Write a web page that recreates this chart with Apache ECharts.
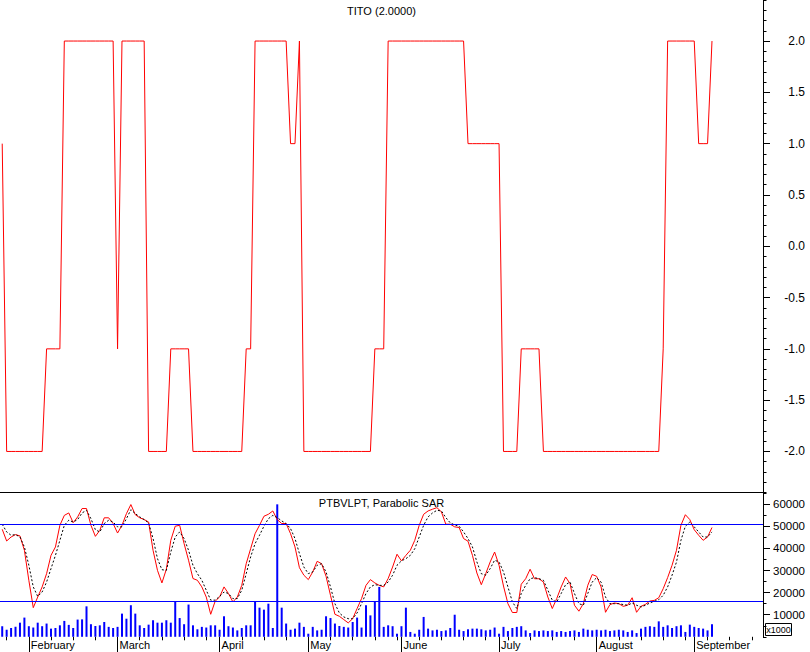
<!DOCTYPE html>
<html>
<head>
<meta charset="utf-8">
<script src="https://cdn.jsdelivr.net/npm/echarts@6/dist/echarts.min.js"></script>
<style>
html,body{margin:0;padding:0;background:#ffffff;}
#chart{width:810px;height:652px;}
</style>
</head>
<body>
<div id="chart"></div>
<script>
// ---------- data ----------
const firstDay = '2010-01-22';
const dayCount = 172;                      // trading-day slots on the axis
const holidays = ['2010-04-02', '2010-04-05'];
const monthNames = ['January','February','March','April','May','June','July','August','September','October','November','December'];

const topTitle = 'TITO (2.0000)';
const bottomTitle = 'PTBVLPT, Parabolic SAR';
const unitNote = 'x1000';

const titoTicks = [-2, -1.5, -1, -0.5, 0, 0.5, 1, 1.5, 2];
const lowerTicks = [10000, 20000, 30000, 40000, 50000, 60000];
const refLevels = [50800, 15900];

const tito = [1,
 -2,-2,-2,-2,-2,-2,-2,-2,-2,
 -1,-1,-1,-1,
 2,2,2,2,2,2,2,2,2,2,2,2,
 -1,
 2,2,2,2,2,2,
 -2,-2,-2,-2,-2,
 -1,-1,-1,-1,-1,
 -2,-2,-2,-2,-2,-2,-2,-2,-2,-2,-2,-2,
 -1,-1,
 2,2,2,2,2,2,2,2,
 1,1,
 2,
 -2,-2,-2,-2,-2,-2,-2,-2,-2,-2,-2,-2,-2,-2,-2,-2,
 -1,-1,-1,
 2,2,2,2,2,2,2,2,2,2,2,2,2,2,2,2,2,2,
 1,1,1,1,1,1,1,1,
 -2,-2,-2,-2,
 -1,-1,-1,-1,-1,
 -2,-2,-2,-2,-2,-2,-2,-2,-2,-2,-2,-2,-2,-2,-2,-2,-2,-2,-2,-2,-2,-2,-2,-2,-2,-2,-2,
 -1,
 2,2,2,2,2,2,2,
 1,1,1,
 2];

const ptbv = [48700,43400,45200,46300,45700,39200,25600,13200,18000,22600,
 28600,36900,40700,50500,55000,56100,51700,54300,58100,58100,
 50500,45500,48200,53900,53900,51300,47000,50500,55800,59900,
 55300,53900,53100,52000,39200,30100,24400,30600,43700,50100,
 50500,42200,34700,26400,25600,22600,18000,10200,16100,18000,
 22600,19600,15800,18000,23300,33100,39900,46700,50500,54600,
 55500,57000,53100,51300,51300,46700,40700,31300,27900,25900,
 29400,34200,33100,27400,18800,10200,9300,7800,6300,8200,
 12800,17300,23300,25900,24400,23300,22600,26400,31600,37400,
 34400,36900,39200,43700,50500,55500,57000,57800,58500,56600,
 51000,51000,49800,49500,44500,43300,36900,28900,23600,28600,
 33900,38400,32400,23000,15000,11000,11000,23800,26300,30600,
 26300,26300,24800,18000,12800,17300,22600,27100,24100,14300,
 11600,15000,23300,28200,27400,22600,11100,14600,15300,15000,
 13800,14300,17700,11100,13800,14700,16200,16500,17700,21800,
 26800,32400,39200,50500,55300,53100,48500,46000,43700,45200,
 49500];

const sar = [51000,47500,46000,46300,45200,40700,32400,22600,18300,20300,
 24800,30900,36900,43700,50500,52800,52000,53100,56100,57300,
 53500,48500,47500,51300,52800,52000,49800,49800,53500,57600,
 55800,54300,53100,51600,44500,35400,30400,30100,38400,45200,
 47500,44500,39200,32400,28600,25600,21100,16600,16600,18300,
 20300,19600,17300,17300,21100,28600,36200,42200,46000,50100,
 53500,55000,54000,52500,51300,49000,44500,37700,31600,28600,
 29400,32400,33100,29400,22600,15000,10800,9000,8200,8200,
 10800,15000,19600,22600,23600,23300,23300,24800,27900,32400,
 34400,35400,36900,39900,45200,50500,54300,56100,57300,57000,
 54000,51600,50700,50100,47500,44500,40700,33900,28600,27900,
 30900,34700,33900,29400,22600,15800,12800,19600,23300,26300,
 26800,26300,25600,21100,16600,15800,19600,23600,24800,19600,
 15000,14300,19600,24800,26800,24800,18000,15000,15000,15000,
 14600,14300,15300,14300,13500,14300,15300,16100,16800,18800,
 22600,27900,33900,43700,50100,52000,49800,47500,45200,45200,
 47500];

const volume = [4800,3200,4000,4500,6400,8700,4800,4200,6400,4800,
 6000,3700,4000,5200,7200,5400,4000,7800,7900,13800,
 5700,4900,5200,6700,4500,4000,4500,10500,8200,14300,
 10500,5200,4000,5500,7500,6400,6400,7500,6400,15800,
 8500,5700,14600,5200,3400,4500,4200,5200,5200,3200,
 9300,4800,4200,2900,4000,5200,5200,15800,13200,12300,
 15000,4000,60000,13200,6000,3200,3700,6400,4500,1400,
 4500,2900,3200,9300,8500,6000,4900,4500,4200,6700,
 8700,4200,14300,9700,15800,22600,4500,5200,4800,1400,
 4800,13200,2200,1400,3200,9000,3700,2900,3200,2600,
 2900,4000,10000,3200,2600,3400,3700,3700,3400,2900,
 3200,4200,1400,4500,2600,4000,4500,4800,2900,1700,
 2900,2600,2900,2600,2900,2200,2600,2200,2600,2900,
 2200,3700,3200,2900,3200,2900,3200,2600,2900,3200,
 2900,2200,2900,1700,3700,4500,4800,4500,7000,4500,
 5200,4000,4800,5200,2200,5500,4500,4000,3700,2900,
 5700];

// ---------- categories (trading days) ----------
function tradingDays(start, n, skip) {
  const out = [];
  const d = new Date(start + 'T00:00:00Z');
  while (out.length < n) {
    const wd = d.getUTCDay();
    const s = d.toISOString().slice(0, 10);
    if (wd !== 0 && wd !== 6 && skip.indexOf(s) < 0) out.push(s);
    d.setUTCDate(d.getUTCDate() + 1);
  }
  return out;
}
const dates = tradingDays(firstDay, dayCount, holidays);
function isMonthStart(i) {
  return i > 0 && dates[i].slice(5, 7) !== dates[i - 1].slice(5, 7);
}
function isMonday(i) {
  return new Date(dates[i] + 'T00:00:00Z').getUTCDay() === 1;
}

// ---------- chart ----------
const FONT = 'Liberation Sans, Arial, Helvetica, sans-serif';
const W = 763;
const topGrid = {left: 0, top: 0, width: W, height: 492.5};
const lowGrid = {left: 0, top: 493.3, width: W, height: 143.5};

const chart = echarts.init(document.getElementById('chart'), null, {renderer: 'svg'});
const hiddenX = (g) => ({type: 'category', gridIndex: g, data: dates, boundaryGap: true,
  axisLine: {show: false, onZero: false}, axisTick: {show: false}, axisLabel: {show: false}, splitLine: {show: false}});

chart.setOption({
  animation: false,
  backgroundColor: '#ffffff',
  textStyle: {fontFamily: FONT},
  grid: [
    Object.assign({}, topGrid),
    Object.assign({}, lowGrid),
    Object.assign({}, topGrid),
    Object.assign({}, lowGrid)
  ],
  xAxis: [
    {type: 'category', gridIndex: 0, data: dates, boundaryGap: true, position: 'bottom',
     axisLine: {show: true, onZero: false, lineStyle: {color: '#000', width: 1}},
     axisTick: {show: false}, axisLabel: {show: false}, splitLine: {show: false}},
    {type: 'category', gridIndex: 1, data: dates, boundaryGap: true, position: 'bottom',
     axisLine: {show: false, onZero: false},
     axisTick: {show: true, alignWithLabel: true, interval: isMonthStart, length: 16,
                lineStyle: {color: '#000', width: 1}},
     axisLabel: {show: true, interval: isMonthStart, align: 'left', margin: 3,
                 padding: [0, 0, 0, 2], fontSize: 11, color: '#000', fontFamily: FONT,
                 formatter: function (v) { return monthNames[parseInt(v.slice(5, 7), 10) - 1]; }},
     splitLine: {show: false}},
    hiddenX(2),
    {type: 'category', gridIndex: 3, data: dates, boundaryGap: true, position: 'bottom',
     axisLine: {show: false, onZero: false},
     axisTick: {show: true, alignWithLabel: true, interval: isMonday, length: 3.5,
                lineStyle: {color: '#000', width: 1}},
     axisLabel: {show: false}, splitLine: {show: false}}
  ],
  yAxis: [
    {type: 'value', gridIndex: 0, position: 'right', min: -2.4, max: 2.4,
     axisLine: {show: true, lineStyle: {color: '#000', width: 1}},
     axisTick: {show: true, customValues: titoTicks, length: 7, lineStyle: {color: '#000'}},
     axisLabel: {show: true, customValues: titoTicks, align: 'right', margin: 42,
                 fontSize: 12, color: '#000', fontFamily: FONT,
                 formatter: function (v) { return v.toFixed(1); }},
     splitLine: {show: false}},
    {type: 'value', gridIndex: 1, position: 'right', min: 0, max: 65000,
     axisLine: {show: true, lineStyle: {color: '#000', width: 1}},
     axisTick: {show: true, customValues: lowerTicks, length: 7, lineStyle: {color: '#000'}},
     axisLabel: {show: true, customValues: lowerTicks, align: 'right', margin: 42,
                 fontSize: 11.5, color: '#000', fontFamily: FONT,
                 formatter: function (v) { return String(v); }},
     splitLine: {show: false}},
    {type: 'value', gridIndex: 2, position: 'right', min: -2.4, max: 2.4, interval: 0.1,
     axisLine: {show: false},
     axisTick: {show: true, length: 3.5, lineStyle: {color: '#000'}},
     axisLabel: {show: false}, splitLine: {show: false}},
    {type: 'value', gridIndex: 3, position: 'right', min: 0, max: 65000, interval: 5000,
     axisLine: {show: false},
     axisTick: {show: true, length: 3.5, lineStyle: {color: '#000'}},
     axisLabel: {show: false}, splitLine: {show: false}}
  ],
  series: [
    {name: 'TITO', type: 'line', xAxisIndex: 0, yAxisIndex: 0, data: tito,
     symbol: 'none', showSymbol: false, silent: true,
     lineStyle: {color: '#ff0000', width: 1}},
    {name: 'PTBVLPT', type: 'line', xAxisIndex: 1, yAxisIndex: 1, data: ptbv,
     symbol: 'none', showSymbol: false, silent: true,
     lineStyle: {color: '#ff0000', width: 1}},
    {name: 'Parabolic SAR', type: 'line', xAxisIndex: 1, yAxisIndex: 1, data: sar,
     symbol: 'none', showSymbol: false, silent: true,
     lineStyle: {color: '#000000', width: 1, type: [2, 2]}},
    {name: 'Volume', type: 'bar', xAxisIndex: 1, yAxisIndex: 1, data: volume,
     barWidth: 2, silent: true, itemStyle: {color: '#0000ff'},
     markLine: {silent: true, symbol: ['none', 'none'], label: {show: false},
                lineStyle: {color: '#0000ff', width: 1, type: 'solid'},
                data: refLevels.map(function (v) { return {yAxis: v}; })}}
  ],
  graphic: [
    {type: 'text', x: 381.5, y: 11, silent: true,
     style: {text: topTitle, fill: '#000', fontSize: 11, fontFamily: FONT,
             align: 'center', verticalAlign: 'middle'}},
    {type: 'text', x: 381.5, y: 503, silent: true,
     style: {text: bottomTitle, fill: '#000', fontSize: 11, fontFamily: FONT,
             align: 'center', verticalAlign: 'middle'}},
    {type: 'rect', silent: true, shape: {x: 765.5, y: 623.5, width: 26, height: 12},
     style: {fill: '#fff', stroke: '#000', lineWidth: 1}},
    {type: 'text', x: 778.5, y: 629.5, silent: true,
     style: {text: unitNote, fill: '#000', fontSize: 9, fontFamily: FONT,
             align: 'center', verticalAlign: 'middle'}}
  ]
});
</script>
</body>
</html>
